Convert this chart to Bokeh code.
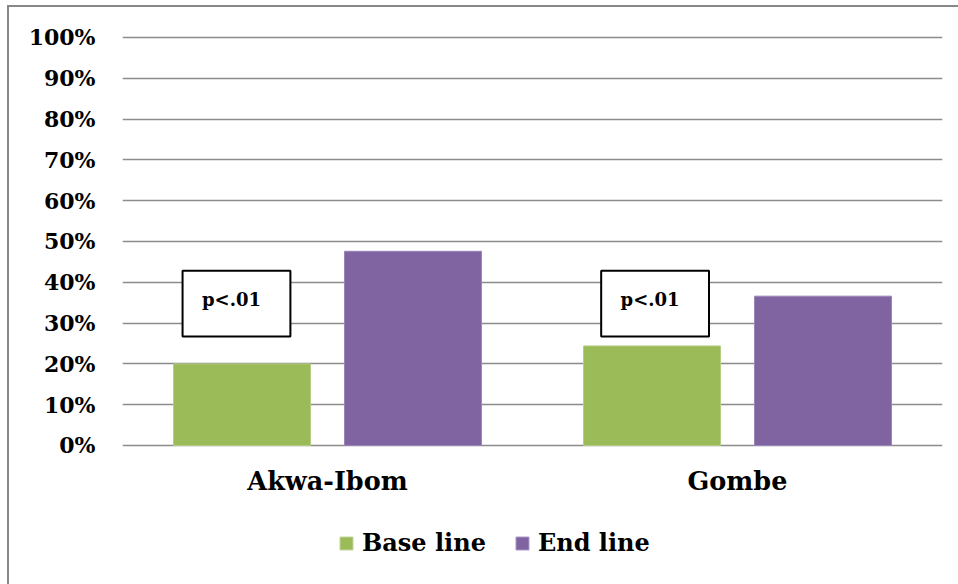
from bokeh.plotting import figure
from bokeh.models import (ColumnDataSource, FactorRange, Range1d, FixedTicker,
                          NumeralTickFormatter, Legend, LegendItem)
from bokeh.transform import dodge
from bokeh.core.properties import value
from bokeh.embed import file_html
from bokeh.resources import INLINE

# ---- data ----
categories = ["Akwa-Ibom", "Gombe"]
base_line = [0.20, 0.244]
end_line = [0.476, 0.366]
y_ticks = [0.0, 0.1, 0.2, 0.3, 0.4, 0.5, 0.6, 0.7, 0.8, 0.9, 1.0]
annot_text = ["p<.01", "p<.01"]
annot_offset = [-0.222, -0.201]
annot_y = [0.3475, 0.3475]

GREEN = "#9BBB59"
PURPLE = "#8064A2"
GRID = "#8c8c8c"
FONT = "DejaVu Serif"

src = ColumnDataSource(dict(cat=categories, base=base_line, end=end_line,
                            zero=[0.0] * len(categories)))

p = figure(width=958, height=584, frame_width=820, frame_height=549,
           output_backend="svg", toolbar_location=None,
           x_range=FactorRange(*categories, range_padding=0),
           y_range=Range1d(-0.3407, 1.0049),
           min_border_left=122, min_border_right=16,
           min_border_top=35, min_border_bottom=0)
p.outline_line_color = None
p.background_fill_alpha = 0
p.border_fill_alpha = 0
p.styles = {
    "background-color": "white",
    "background-image": "linear-gradient(#888888, #888888), linear-gradient(#888888, #888888)",
    "background-size": "2px 100%, 100% 2px",
    "background-position": "7px 5px, 7px 5px",
    "background-repeat": "no-repeat",
}

b1 = p.vbar(x=dodge("cat", -0.2085, range=p.x_range), top="base", width=0.334,
            source=src, fill_color=GREEN, line_color="#b5cd84", line_width=1)
b2 = p.vbar(x=dodge("cat", 0.2085, range=p.x_range), top="end", width=0.334,
            source=src, fill_color=PURPLE, line_color="#9a84b8", line_width=1)

# category labels under the 0% line
p.text(x="cat", y="zero", text="cat", source=src, text_font=value(FONT),
       text_font_style="bold", text_font_size="25.5px", text_align="center",
       text_baseline="top", y_offset=21, text_color="black")

# annotation boxes with significance text
for i in range(len(categories)):
    s = ColumnDataSource(dict(cat=[categories[i]], y=[annot_y[i]], txt=[annot_text[i]]))
    p.rect(x=dodge("cat", annot_offset[i], range=p.x_range), y="y",
           width=0.263, height=0.161, source=s,
           fill_color="white", line_color="black", line_width=2)
    p.text(x=dodge("cat", annot_offset[i], range=p.x_range), y="y", text="txt",
           source=s, text_font=value(FONT), text_font_style="bold",
           text_font_size="18px", text_align="center", text_baseline="middle",
           x_offset=-5, y_offset=-4, text_color="black")

# axes
p.yaxis.ticker = FixedTicker(ticks=y_ticks)
p.yaxis.formatter = NumeralTickFormatter(format="0%")
p.yaxis.major_label_text_font = FONT
p.yaxis.major_label_text_font_style = "bold"
p.yaxis.major_label_text_font_size = "22px"
p.yaxis.major_label_text_color = "black"
p.yaxis.major_label_standoff = 21
p.yaxis.axis_line_color = None
p.yaxis.major_tick_line_color = None
p.yaxis.minor_tick_line_color = None
p.xaxis.visible = False

p.xgrid.grid_line_color = None
p.ygrid.grid_line_color = GRID
p.ygrid.grid_line_width = 1.6

legend = Legend(items=[LegendItem(label="Base line", renderers=[b1]),
                       LegendItem(label="End line", renderers=[b2])],
                orientation="horizontal", location=(216, 27),
                glyph_width=16, glyph_height=16, label_standoff=8, spacing=28,
                padding=0, margin=0, border_line_color=None,
                background_fill_alpha=0,
                label_text_font=FONT, label_text_font_style="bold",
                label_text_font_size="24px", label_text_color="black")
p.add_layout(legend, "center")

open("out.html", "w").write(file_html(p, INLINE))
